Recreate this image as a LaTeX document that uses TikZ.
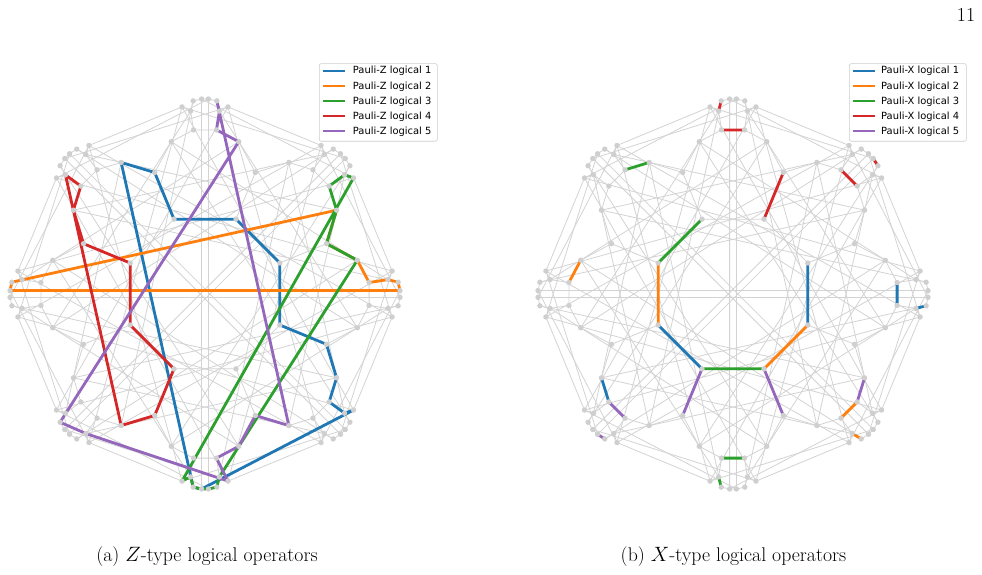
\documentclass[tikz,border=0pt]{standalone}
\usepackage{fontspec}
\newfontfamily\legfont{DejaVu Sans}
\usetikzlibrary{calc}
\definecolor{tabblue}{HTML}{1F77B4}
\definecolor{taborange}{HTML}{FF7F0E}
\definecolor{tabgreen}{HTML}{2CA02C}
\definecolor{tabred}{HTML}{D62728}
\definecolor{tabpurple}{HTML}{9467BD}
\definecolor{edgegray}{HTML}{D3D3D3}
\definecolor{dotgray}{HTML}{CFCFCF}
\definecolor{legframe}{HTML}{CCCCCC}
\tikzset{
  gedge/.style={draw=edgegray, line width=0.8pt},
  gdot/.style={fill=dotgray},
  lpath/.style={line width=2.8pt, line join=round},
  legline/.style={line width=2pt},
  legbox/.style={draw=legframe, fill=white, rounded corners=2pt, line width=0.6pt},
  legtext/.style={anchor=west, inner sep=0pt, font=\legfont\fontsize{9.9}{11}\selectfont},
  captext/.style={inner sep=0pt, font=\fontsize{19.8}{23}\selectfont}
}
\newcommand{\mknodes}[1]{%
 \foreach \k in {0,...,7}{%
  \pgfmathsetmacro{\t}{45*\k}%
  \coordinate (#1Ep\k) at ($(#1c)+(\t+1:195)$);%
  \coordinate (#1Em\k) at ($(#1c)+(\t-1:195)$);%
  \coordinate (#1Fp\k) at ($(#1c)+(\t+3.5:193.5)$);%
  \coordinate (#1Fm\k) at ($(#1c)+(\t-3.5:193.5)$);%
  \coordinate (#1Gp\k) at ($(#1c)+(\t+4.5:183.5)$);%
  \coordinate (#1Gm\k) at ($(#1c)+(\t-4.5:183.5)$);%
  \coordinate (#1Hp\k) at ($(#1c)+(\t+7:188.5)$);%
  \coordinate (#1Hm\k) at ($(#1c)+(\t-7:188.5)$);%
  \coordinate (#1Ap\k) at ($(#1c)+(\t+4:164.5)$);%
  \coordinate (#1Am\k) at ($(#1c)+(\t-4:164.5)$);%
  \coordinate (#1Bp\k) at ($(#1c)+(\t+12.5:156)$);%
  \coordinate (#1Bm\k) at ($(#1c)+(\t-12.5:156)$);%
  \coordinate (#1C\k) at ($(#1c)+(\t+22.5:131.5)$);%
  \coordinate (#1D\k) at ($(#1c)+(\t+22.5:81)$);%
 }}
\newcommand{\grayedges}[1]{%
 \foreach \k in {0,...,7}{%
  \pgfmathtruncatemacro{\ka}{mod(\k+1,8)}%
  \pgfmathtruncatemacro{\kb}{mod(\k+3,8)}%
  \pgfmathtruncatemacro{\kc}{mod(\k+5,8)}%
  \pgfmathtruncatemacro{\kd}{mod(\k+6,8)}%
  \pgfmathtruncatemacro{\ke}{mod(\k+2,8)}%
  \pgfmathtruncatemacro{\kf}{mod(\k+4,8)}%
  \pgfmathtruncatemacro{\kg}{mod(\k+7,8)}%
  \draw[gedge] (#1D\k) -- (#1D\ka) (#1D\k) -- (#1C\k)
     (#1C\k) -- (#1Bp\k) (#1C\k) -- (#1Bm\ka)
     (#1Bp\k) -- (#1Ap\k) (#1Bm\k) -- (#1Am\k) (#1Ap\k) -- (#1Am\k)
     (#1Ap\k) -- (#1Gp\k) (#1Am\k) -- (#1Gm\k)
     (#1Fp\k) -- (#1Gp\k) (#1Fm\k) -- (#1Gm\k)
     (#1Ep\k) -- (#1Fp\k) (#1Em\k) -- (#1Fm\k) (#1Ep\k) -- (#1Em\k)
     (#1Gp\k) -- (#1Hp\k) (#1Gm\k) -- (#1Hm\k)
     (#1Ep\k) -- (#1Em\kf)
     (#1Bm\k) -- (#1Fm\kb) (#1Bp\k) -- (#1Fp\kc)
     (#1Bp\k) -- (#1Gp\kd) (#1Bm\k) -- (#1Gm\ke)
     (#1Hm\k) -- (#1Hm\kc) (#1Hp\k) -- (#1Hp\kb)
     (#1Hp\k) -- (#1Hm\ka)
     (#1Hp\k) -- (#1Em\kg) (#1Hm\k) -- (#1Ep\ka);
 }}
\newcommand{\graydots}[1]{%
 \foreach \k in {0,...,7}{%
  \foreach \n in {Ep,Em,Fp,Fm,Gp,Gm,Hp,Hm,Ap,Am,Bp,Bm,C,D}{%
   \fill[gdot] (#1\n\k) circle (2.7);
  }}}
\begin{document}
\begin{tikzpicture}[x=1pt,y=1pt]
\useasboundingbox (0,0) rectangle (982,574);
\coordinate (Lc) at (205,280);
\coordinate (Rc) at (733,280);
\mknodes{L}
\mknodes{R}
\grayedges{L}
\grayedges{R}
% ---- Z-type logical operators (left)
\draw[lpath, tabblue] (LBm3) -- (LC2) -- (LD2) -- (LD1) -- (LD0) -- (LD7) -- (LC7) -- (LBp7) -- (LAp7) -- (LGp7) -- (LHp7) -- (LEm6) -- (LFm6) -- cycle;
\draw[lpath, taborange] (LEp0) -- (LEm4) -- (LFm4) -- (LBm1) -- (LC0) -- (LBp0) -- (LAp0) -- (LGp0) -- (LFp0) -- cycle;
\draw[lpath, tabgreen] (LAm1) -- (LBm1) -- (LC0) -- (LBp0) -- (LGp6) -- (LFp6) -- (LEp6) -- (LEm6) -- (LFm6) -- (LGm6) -- (LHm6) -- (LHm1) -- (LGm1) -- cycle;
\draw[lpath, tabred] (LBp5) -- (LGp3) -- (LAp3) -- (LBp3) -- (LC3) -- (LD3) -- (LD4) -- (LD5) -- (LC5) -- cycle;
\draw[lpath, tabpurple] (LFm2) -- (LGm2) -- (LAm2) -- (LBm2) -- (LFm5) -- (LGp5) -- (LHp6) -- (LAp6) -- (LBp6) -- (LC6) -- (LBm7) -- cycle;
% ---- X-type logical operators (right)
\draw[lpath, tabblue] (RD0) -- (RD7) (RAp0) -- (RAm0) (RGm0) -- (RFm0) (RD4) -- (RD5) (RBm5) -- (RAm5);
\draw[lpath, taborange] (RD3) -- (RD4) (RD6) -- (RD7) (RBm4) -- (RAm4) (RAp7) -- (RAm7) (RGm7) -- (RFm7);
\draw[lpath, tabgreen] (RAm3) -- (RBm3) (RD3) -- (RD2) (RD5) -- (RD6) (RAm6) -- (RAp6) (RGm6) -- (RFm6);
\draw[lpath, tabred] (RGp2) -- (RFp2) (RAp2) -- (RAm2) (RD1) -- (RC1) (RAp1) -- (RAm1) (REm1) -- (RFm1);
\draw[lpath, tabpurple] (RD5) -- (RC5) (RD6) -- (RC6) (RAm5) -- (RAp5) (REp5) -- (RFp5) (RBp7) -- (RAp7);
\graydots{L}
\graydots{R}
% ---- legends
\node[legbox, minimum width=118pt, minimum height=77.7pt, anchor=north west] (legL) at (319,510.7) {};
\node[legbox, minimum width=117pt, minimum height=77.7pt, anchor=north west] (legR) at (849,510.7) {};
% left legend entries
\coordinate (lzs1) at (322.7,503);   \coordinate (lze1) at (345,503);
\coordinate (lzs2) at (322.7,487.5); \coordinate (lze2) at (345,487.5);
\coordinate (lzs3) at (322.7,472.5); \coordinate (lze3) at (345,472.5);
\coordinate (lzs4) at (322.7,457.5); \coordinate (lze4) at (345,457.5);
\coordinate (lzs5) at (322.7,442.5); \coordinate (lze5) at (345,442.5);
\draw[legline, tabblue]   (lzs1) -- (lze1);
\draw[legline, taborange] (lzs2) -- (lze2);
\draw[legline, tabgreen]  (lzs3) -- (lze3);
\draw[legline, tabred]    (lzs4) -- (lze4);
\draw[legline, tabpurple] (lzs5) -- (lze5);
\node[legtext] (lzt1) at (352.7,503)   {Pauli-Z logical 1};
\node[legtext] (lzt2) at (352.7,487.5) {Pauli-Z logical 2};
\node[legtext] (lzt3) at (352.7,472.5) {Pauli-Z logical 3};
\node[legtext] (lzt4) at (352.7,457.5) {Pauli-Z logical 4};
\node[legtext] (lzt5) at (352.7,442.5) {Pauli-Z logical 5};
% right legend entries
\coordinate (lxs1) at (852.7,503);   \coordinate (lxe1) at (874.7,503);
\coordinate (lxs2) at (852.7,487.5); \coordinate (lxe2) at (874.7,487.5);
\coordinate (lxs3) at (852.7,472.5); \coordinate (lxe3) at (874.7,472.5);
\coordinate (lxs4) at (852.7,457.5); \coordinate (lxe4) at (874.7,457.5);
\coordinate (lxs5) at (852.7,442.5); \coordinate (lxe5) at (874.7,442.5);
\draw[legline, tabblue]   (lxs1) -- (lxe1);
\draw[legline, taborange] (lxs2) -- (lxe2);
\draw[legline, tabgreen]  (lxs3) -- (lxe3);
\draw[legline, tabred]    (lxs4) -- (lxe4);
\draw[legline, tabpurple] (lxs5) -- (lxe5);
\node[legtext] (lxt1) at (881,503)   {Pauli-X logical 1};
\node[legtext] (lxt2) at (881,487.5) {Pauli-X logical 2};
\node[legtext] (lxt3) at (881,472.5) {Pauli-X logical 3};
\node[legtext] (lxt4) at (881,457.5) {Pauli-X logical 4};
\node[legtext] (lxt5) at (881,442.5) {Pauli-X logical 5};
% ---- captions and page number
\node[captext] (capa) at (207,17) {(a) $Z$-type logical operators};
\node[captext] (capb) at (733.5,17) {(b) $X$-type logical operators};
\node[captext] (pnum) at (966,559) {11};
\end{tikzpicture}
\end{document}
